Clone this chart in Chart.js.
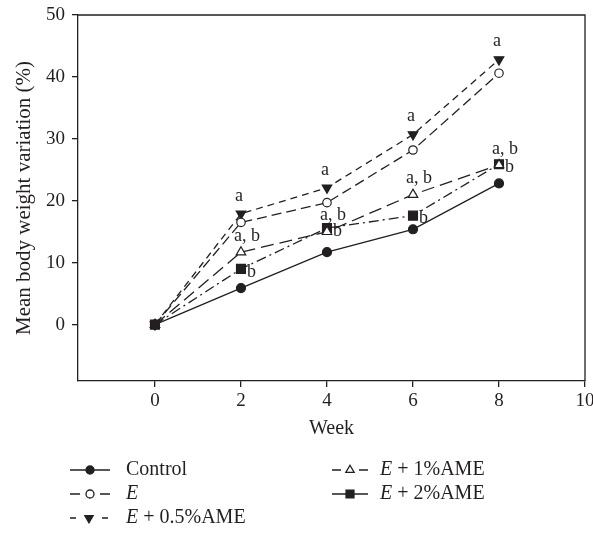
<!DOCTYPE html>
<html>
<head>
  <title>Mean body weight variation</title>
  <script src="https://cdn.jsdelivr.net/npm/chart.js"></script>
  <style>
    body { margin: 0; background: #fff; }
    #wrap { width: 593px; height: 537px; }
  </style>
</head>
<body>
  <div id="wrap"><canvas id="bwChart" width="593" height="537"></canvas></div>

  <script>
    const weeks = [0, 2, 4, 6, 8];
    const control = [0, 5.9, 11.7, 15.4, 22.8];
    const eOnly = [0, 16.5, 19.7, 28.2, 40.6];
    const e05 = [0, 17.9, 22.1, 30.7, 42.8];
    const e1 = [0, 11.7, 15.0, 21.0, 25.8];
    const e2 = [0, 9.0, 15.6, 17.6, 25.9];
    const seriesNames = ['Control', 'E', 'E + 0.5%AME', 'E + 1%AME', 'E + 2%AME'];
    const xTicks = [0, 2, 4, 6, 8, 10];
    const yTicks = [0, 10, 20, 30, 40, 50];
    // significance letters per week
    const letters05 = ['', 'a', 'a', 'a', 'a'];
    const letters1 = ['', 'a, b', 'a, b', 'a, b', 'a, b'];
    const letters2 = ['', 'b', 'b', 'b', 'b'];

    const ink = '#231f20';
    const serif = 'Liberation Serif';

    function pts(vals) {
      return weeks.map((w, i) => ({ x: w, y: vals[i] }));
    }

    // legend sample: [column, row, segments as [from, to] relative to x0, marker offset]
    const legendSlots = [
      { col: 0, row: 0, segs: [[0, 40]], mark: 20 },
      { col: 0, row: 1, segs: [[0, 10], [30, 40]], mark: 20 },
      { col: 0, row: 2, segs: [[0, 6], [32, 38]], mark: 19 },
      { col: 1, row: 0, segs: [[0, 9], [27, 36]], mark: 18 },
      { col: 1, row: 1, segs: [[0, 36]], mark: 18 }
    ];

    const datasets = [
      { label: seriesNames[0], data: pts(control), borderDash: [],
        pointStyle: 'circle', pointRadius: 4.5, pointBackgroundColor: ink },
      { label: seriesNames[1], data: pts(eOnly), borderDash: [10, 5],
        pointStyle: 'circle', pointRadius: 4.2, pointBackgroundColor: '#fff' },
      { label: seriesNames[2], data: pts(e05), borderDash: [7, 5],
        pointStyle: 'triangle', pointRotation: 180, pointRadius: 5.5, pointBackgroundColor: ink, letters: letters05, place: 'above' },
      { label: seriesNames[3], data: pts(e1), borderDash: [13, 6],
        pointStyle: 'triangle', pointRadius: 5.5, pointBackgroundColor: '#fff', letters: letters1, place: 'aboveRight' },
      { label: seriesNames[4], data: pts(e2), borderDash: [10, 4, 2, 4],
        pointStyle: 'rect', pointRadius: 6.3, pointBackgroundColor: ink, letters: letters2, place: 'right' }
    ];
    datasets.forEach(d => {
      d.borderColor = ink;
      d.borderWidth = 1.3;
      d.pointBorderColor = ink;
      d.pointBorderWidth = 1.2;
      d.tension = 0;
      d.fill = false;
    });

    const letterPlugin = {
      id: 'letters',
      afterDatasetsDraw(chart) {
        const ctx = chart.ctx;
        ctx.save();
        ctx.font = '18px "' + serif + '"';
        ctx.fillStyle = ink;
        ctx.textBaseline = 'middle';
        chart.data.datasets.forEach((ds, di) => {
          if (!ds.letters) return;
          const meta = chart.getDatasetMeta(di);
          ds.letters.forEach((txt, i) => {
            if (!txt) return;
            const p = meta.data[i];
            if (ds.place === 'above') {
              ctx.textAlign = 'center';
              ctx.fillText(txt, p.x - 2, p.y - 18);
            } else if (ds.place === 'aboveRight') {
              ctx.textAlign = 'center';
              ctx.fillText(txt, p.x + 6, p.y - 16);
            } else {
              ctx.textAlign = 'left';
              ctx.fillText(txt, p.x + 6, p.y + 3);
            }
          });
        });
        ctx.restore();
      }
    };

    const framePlugin = {
      id: 'frame',
      afterDraw(chart) {
        const { ctx, chartArea: a } = chart;
        ctx.save();
        ctx.strokeStyle = ink;
        ctx.lineWidth = 1.3;
        ctx.beginPath();
        ctx.moveTo(a.left, a.top);
        ctx.lineTo(a.right, a.top);
        ctx.lineTo(a.right, a.bottom);
        ctx.stroke();
        ctx.restore();
      }
    };

    const legendPlugin = {
      id: 'sideLegend',
      afterDraw(chart) {
        const ctx = chart.ctx;
        const cols = [{ x0: 70, tx: 126 }, { x0: 332, tx: 380 }];
        const rows = [470, 494, 518];
        chart.data.datasets.forEach((ds, i) => {
          const slot = legendSlots[i];
          const c = cols[slot.col];
          const y = rows[slot.row];
          ctx.save();
          ctx.strokeStyle = ink;
          ctx.lineWidth = 1.3;
          ctx.beginPath();
          slot.segs.forEach(s => {
            ctx.moveTo(c.x0 + s[0], y);
            ctx.lineTo(c.x0 + s[1], y);
          });
          ctx.stroke();
          ctx.fillStyle = ds.pointBackgroundColor;
          const r = ds.pointStyle === 'rect' ? 5.6 : (ds.pointStyle === 'triangle' ? 4.8 : 4);
          Chart.helpers.drawPoint(ctx, {
            pointStyle: ds.pointStyle, radius: r, rotation: ds.pointRotation || 0, borderWidth: 1.2
          }, c.x0 + slot.mark, y);
          ctx.fillStyle = ink;
          ctx.textBaseline = 'middle';
          ctx.textAlign = 'left';
          const name = ds.label;
          if (name.startsWith('E')) {
            ctx.font = 'italic 20px "' + serif + '"';
            ctx.fillText('E', c.tx, y);
            const w = ctx.measureText('E').width;
            ctx.font = '20px "' + serif + '"';
            ctx.fillText(name.slice(1), c.tx + w, y);
          } else {
            ctx.font = '20px "' + serif + '"';
            ctx.fillText(name, c.tx, y);
          }
          ctx.restore();
        });
      }
    };

    const ctx1 = document.getElementById('bwChart').getContext('2d');
    const bwChart = new Chart(ctx1, {
      type: 'line',
      data: { datasets: datasets },
      options: {
        responsive: false,
        animation: false,
        layout: { padding: { left: 0, right: 8, top: 15, bottom: 96 } },
        plugins: { legend: { display: false }, tooltip: { enabled: false } },
        scales: {
          x: {
            type: 'linear',
            min: -1.79,
            max: 10,
            afterBuildTicks: s => { s.ticks = xTicks.map(v => ({ value: v })); },
            afterFit: s => { s.height = 60; s.paddingLeft = 0; s.paddingRight = 0; },
            grid: { drawOnChartArea: false, drawTicks: true, tickLength: 6, color: ink, lineWidth: 1.3 },
            border: { display: true, color: ink, width: 1.3 },
            ticks: { color: ink, padding: 3, font: { family: serif, size: 19 } },
            title: { display: true, text: 'Week', color: ink, padding: 0, font: { family: serif, size: 20 } }
          },
          y: {
            min: -9.1,
            max: 50,
            afterBuildTicks: s => { s.ticks = yTicks.map(v => ({ value: v })); },
            afterFit: s => { s.width = 78; s.paddingTop = 0; s.paddingBottom = 0; },
            grid: { drawOnChartArea: false, drawTicks: true, tickLength: 6, color: ink, lineWidth: 1.3 },
            border: { display: true, color: ink, width: 1.3 },
            ticks: { color: ink, padding: 7, font: { family: serif, size: 19 } },
            title: { display: true, text: 'Mean body weight variation (%)', color: ink,
              padding: { top: 12, bottom: 0 }, font: { family: serif, size: 21 } }
          }
        }
      },
      plugins: [letterPlugin, framePlugin, legendPlugin]
    });
  </script>
</body>
</html>
